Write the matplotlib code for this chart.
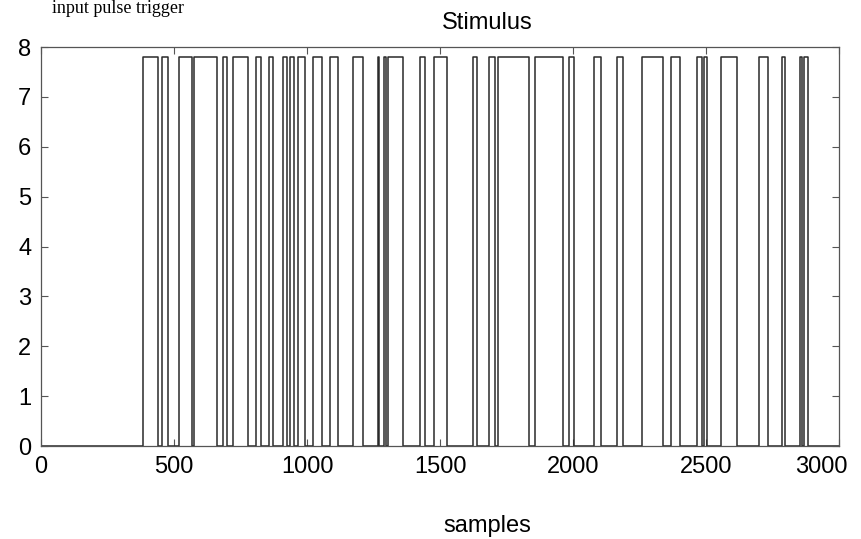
import numpy as np
import matplotlib.pyplot as plt
import matplotlib.transforms as mtransforms

# pulse edges (samples)
rise = [383, 455, 519, 575, 684, 722, 808, 857, 910, 936, 966, 1022, 1086, 1173,
        1267, 1289, 1304, 1425, 1477, 1624, 1684, 1718, 1857, 1985, 2079, 2165,
        2259, 2368, 2466, 2492, 2556, 2699, 2785, 2853, 2868]
fall = [440, 477, 568, 662, 699, 778, 827, 872, 925, 951, 992, 1056, 1116, 1210,
        1271, 1297, 1361, 1443, 1526, 1639, 1707, 1834, 1962, 2004, 2105, 2188,
        2338, 2402, 2485, 2503, 2616, 2733, 2797, 2861, 2883]
high = 7.8
n_samples = 3000

x = [0]
y = [0]
for r, f in zip(rise, fall):
    x += [r, r, f, f]
    y += [0, high, high, 0]
x.append(n_samples)
y.append(0)

fig = plt.figure(figsize=(8.62, 5.39), dpi=100)
ax = fig.add_axes([0.0476, 0.1725, 0.9257, 0.7403])
ax.plot(x, y, color='#2a2a2a', lw=1.1)

ax.set_xlim(0, 3000)
ax.set_ylim(0, 8)
ax.set_xticks(np.arange(0, 3001, 500))
ax.set_yticks(np.arange(0, 9, 1))
ax.tick_params(direction='in', top=True, right=True, length=5, width=0.8,
               color='#555555', labelsize=17, pad=7)
for lab in ax.get_xticklabels() + ax.get_yticklabels():
    lab.set_family('Liberation Sans')
for s in ax.spines.values():
    s.set_color('#555555')
    s.set_linewidth(0.9)

# last x label sits a bit left so it stays inside the page
last = ax.get_xticklabels()[-1]
last.set_horizontalalignment('right')
last.set_transform(last.get_transform() +
                   mtransforms.ScaledTranslation(0.09, 0, fig.dpi_scale_trans))

fig.text(0.565, 0.958, 'Stimulus', ha='center', va='center', fontsize=17,
         family='Liberation Sans')
fig.text(0.565, 0.024, 'samples', ha='center', va='center', fontsize=17,
         family='Liberation Sans')
# line of book text above the figure
fig.text(0.06, 1.0, 'input pulse trigger', ha='left', va='top',
         fontsize=13, family='Liberation Serif')

fig.savefig('out.png', dpi=100)
